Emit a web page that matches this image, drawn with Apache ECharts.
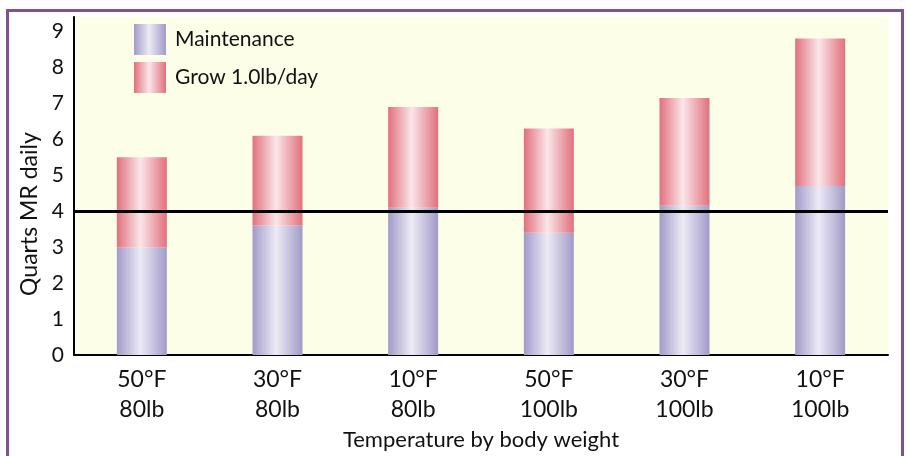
<!DOCTYPE html>
<html><head><meta charset="utf-8">
<script src="https://cdn.jsdelivr.net/npm/echarts@6/dist/echarts.min.js"></script>
<style>
html,body{margin:0;padding:0;background:#fff;width:906px;height:456px;overflow:hidden;}
#frame{position:absolute;left:6px;top:9px;width:892px;height:460px;border:3px solid #84508f;border-bottom:none;}
#c{position:absolute;left:0;top:0;width:906px;height:456px;}
</style></head>
<body><div id="frame"></div><div id="c"></div>
<script>
const categories = ['50°F\n80lb','30°F\n80lb','10°F\n80lb','50°F\n100lb','30°F\n100lb','10°F\n100lb'];
const maintenance = [3.0, 3.6, 4.1, 3.4, 4.15, 4.7];
const grow = [2.5, 2.5, 2.8, 2.9, 3.0, 4.1];
const threshold = 4;
const yTicks = [0,1,2,3,4,5,6,7,8,9];

function grad(edge, mid){
  return new echarts.graphic.LinearGradient(0,0,1,0,[
    {offset:0,color:edge},{offset:0.47,color:mid},{offset:1,color:edge}]);
}
const chart = echarts.init(document.getElementById('c'));
const font = 'Lato, "Open Sans", sans-serif';
chart.setOption({
  animation:false,
  textStyle:{fontFamily:font},
  grid:{left:74,right:18,top:17,bottom:98.5,show:true,backgroundColor:'#fcfee8',borderWidth:0},
  legend:{orient:'vertical',left:134,top:24,padding:0,itemWidth:32,itemHeight:31,itemGap:7,icon:'rect',
    textStyle:{fontSize:21,color:'#111',fontFamily:font,padding:[0,0,0,4]},
    data:['Maintenance','Grow 1.0lb/day'],selectedMode:false},
  xAxis:{type:'category',data:categories,
    axisLine:{lineStyle:{color:'#000',width:2}},axisTick:{show:false},
    axisLabel:{fontSize:23,color:'#111',lineHeight:30,margin:9,fontFamily:font},
    name:'Temperature by body weight',nameLocation:'middle',nameGap:70,
    nameTextStyle:{fontSize:22,color:'#111',fontFamily:font}},
  yAxis:{type:'value',min:0,max:9.4,interval:1,splitLine:{show:false},
    axisLine:{show:true,lineStyle:{color:'#000',width:2}},axisTick:{show:false},
    axisLabel:{fontSize:21,color:'#111',margin:10,showMaxLabel:false,fontFamily:font,
      formatter:v=>yTicks.includes(v)?String(v):''},
    name:'Quarts MR daily',nameLocation:'middle',nameGap:33,
    nameTextStyle:{fontSize:23,color:'#111',fontFamily:font,padding:[0,56,0,0]}},
  series:[
    {name:'Maintenance',type:'bar',stack:'a',barWidth:50,data:maintenance,
     itemStyle:{color:grad('#a29ac9','#ecebf5')},
     markLine:{silent:true,symbol:'none',label:{show:false},
       lineStyle:{color:'#000',width:3,type:'solid'},data:[{yAxis:threshold}]}},
    {name:'Grow 1.0lb/day',type:'bar',stack:'a',barWidth:50,data:grow,
     itemStyle:{color:grad('#e2707d','#fae6ea')}}
  ]
});
</script></body></html>
